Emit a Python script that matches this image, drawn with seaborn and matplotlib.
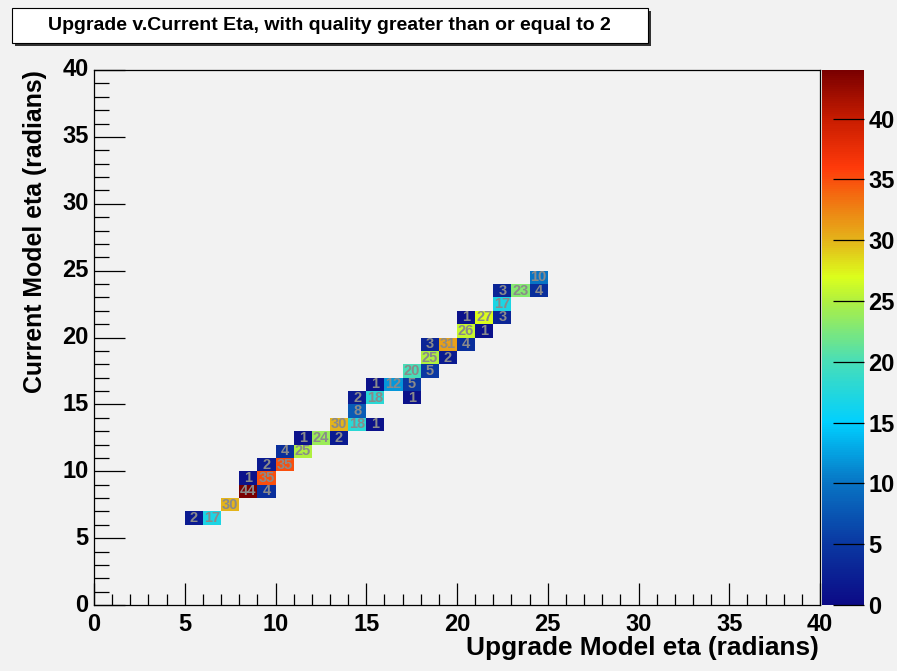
import numpy as np
import pandas as pd
import matplotlib
matplotlib.use("Agg")
import matplotlib.pyplot as plt
from matplotlib.colors import LinearSegmentedColormap
from matplotlib.patches import Rectangle
from matplotlib.ticker import MultipleLocator, NullLocator
import seaborn as sns

# ---- data (bin lower edges and counts) ----
upgrade_bin = [5, 6, 7, 8, 9, 8, 9, 9, 10, 10, 11, 11, 12, 13, 13, 14, 15, 14, 14, 15,
               17, 15, 16, 17, 17, 18, 18, 19, 18, 19, 20, 20, 21, 20, 21, 22, 22, 22,
               23, 24, 24]
current_bin = [6, 6, 7, 8, 8, 9, 9, 10, 10, 11, 11, 12, 12, 12, 13, 13, 13, 14, 15, 15,
               15, 16, 16, 16, 17, 17, 18, 18, 19, 19, 19, 20, 20, 21, 21, 21, 22, 23,
               23, 23, 24]
counts = [2, 17, 30, 44, 4, 1, 35, 2, 35, 4, 25, 1, 24, 2, 30, 18, 1, 8, 2, 18,
          1, 1, 12, 5, 20, 5, 25, 2, 3, 31, 4, 26, 1, 1, 27, 3, 17, 3,
          23, 4, 10]
tick_values = [0, 5, 10, 15, 20, 25, 30, 35, 40]
cbar_ticks = [0, 5, 10, 15, 20, 25, 30, 35, 40]

nbins = 40
grid = np.zeros((nbins, nbins), dtype=int)
for xb, yb, c in zip(upgrade_bin, current_bin, counts):
    grid[yb, xb] = c
df = pd.DataFrame(grid)
mask = grid == 0

# ROOT-like "pretty" palette
cmap = LinearSegmentedColormap.from_list("rootpal", [
    (0.00, "#0c0a86"),
    (5/44, "#0a38a2"),
    (10/44, "#0874c4"),
    (15/44, "#00d0ff"),
    (20/44, "#48deb8"),
    (25/44, "#b0f040"),
    (27/44, "#dcff1c"),
    (30/44, "#e4b41a"),
    (33/44, "#f07a12"),
    (36/44, "#ff3a0a"),
    (40/44, "#c81c00"),
    (1.00, "#7a0000"),
])

bg = "#f2f2f2"
sns.set_theme(style="white")
plt.rcParams["font.family"] = ["Liberation Sans", "DejaVu Sans"]
plt.rcParams["font.weight"] = "bold"
plt.rcParams["text.color"] = "black"
plt.rcParams["axes.labelcolor"] = "black"
plt.rcParams["xtick.color"] = "black"
plt.rcParams["ytick.color"] = "black"
plt.rcParams["axes.axisbelow"] = False

fig = plt.figure(figsize=(8.97, 6.71), dpi=100, facecolor=bg)
W, H = 897, 671
ax = fig.add_axes([94 / W, 1 - 605 / H, 726 / W, 535 / H])
cax = fig.add_axes([822 / W, 1 - 605 / H, 42 / W, 535 / H])
ax.set_facecolor(bg)

sns.heatmap(df, mask=mask, cmap=cmap, vmin=0, vmax=44, ax=ax, cbar_ax=cax,
            annot=True, fmt="d",
            annot_kws={"color": "#8a8a8a", "fontsize": 10.5, "fontweight": "bold"},
            linewidths=0, square=False)

ax.set_axisbelow(False)
cax.set_axisbelow(False)
ax.set_xlim(0, 40)
ax.set_ylim(0, 40)
ax.set_xticks(tick_values)
ax.set_xticklabels([str(v) for v in tick_values], rotation=0)
ax.set_yticks(tick_values)
ax.set_yticklabels([str(v) for v in tick_values], rotation=0)
ax.xaxis.set_minor_locator(MultipleLocator(1))
ax.yaxis.set_minor_locator(MultipleLocator(1))
ax.tick_params(axis="both", which="both", direction="in", colors="black",
               labelsize=17, width=0.9, bottom=True, left=True, top=False, right=False)
ax.tick_params(axis="x", which="major", length=16, pad=6)
ax.tick_params(axis="x", which="minor", length=8)
ax.tick_params(axis="y", which="major", length=22, pad=4)
ax.tick_params(axis="y", which="minor", length=11)
for lab in ax.get_xticklabels() + ax.get_yticklabels():
    lab.set_fontweight("bold")
for s in ax.spines.values():
    s.set_visible(True)
    s.set_color("black")
    s.set_linewidth(0.9)
ax.set_xlabel("")
ax.set_ylabel("")

fig.text(819 / W, 1 - 648 / H, "Upgrade Model eta (radians)", ha="right", va="center",
         fontsize=18.9, fontweight="bold")
fig.text(35 / W, 1 - 70 / H, "Current Model eta (radians)", ha="center", va="top",
         rotation=90, fontsize=17.9, fontweight="bold")

# colorbar styling
cax.set_yticks(cbar_ticks)
cax.set_yticklabels([str(v) for v in cbar_ticks])
cax.yaxis.set_ticks_position("right")
cax.tick_params(axis="y", which="major", direction="in", length=22, width=0.9,
                colors="black", labelsize=17, pad=3, right=True, left=False)
for lab in cax.get_yticklabels():
    lab.set_fontweight("bold")
cax.yaxis.set_minor_locator(NullLocator())

# title box with shadow
fig.patches.append(Rectangle((15 / W, 1 - 46 / H), 636 / W, 35 / H, transform=fig.transFigure,
                             facecolor="#333333", edgecolor="none", zorder=1))
fig.patches.append(Rectangle((12 / W, 1 - 43 / H), 636 / W, 35 / H, transform=fig.transFigure,
                             facecolor="white", edgecolor="black", linewidth=0.8, zorder=2))
fig.text(329 / W, 1 - 26 / H, "Upgrade v.Current Eta, with quality greater than or equal to 2",
         ha="center", va="center", fontsize=14, fontweight="bold", zorder=3)

fig.savefig("out.png", dpi=100, facecolor=bg)
